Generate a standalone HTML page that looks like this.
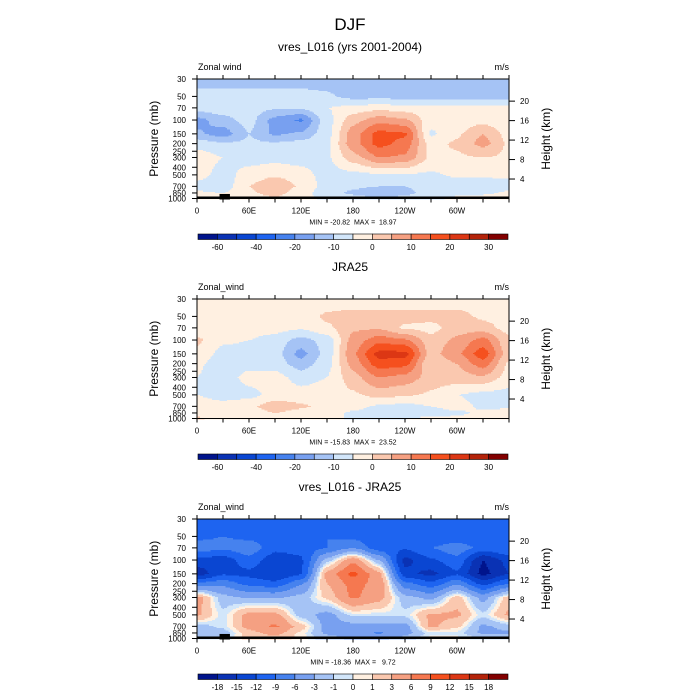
<!DOCTYPE html>
<html><head><meta charset="utf-8"><style>
body{margin:0;background:#fff;}
svg{display:block;font-family:"Liberation Sans",sans-serif;}
text{white-space:pre;}
</style></head><body>
<svg id="chart" width="700" height="700" viewBox="0 0 700 700">
<rect width="700" height="700" fill="#fff"/>
<text x="350" y="30" font-size="17" text-anchor="middle">DJF</text>
</svg>
<script>
// ---- data ----
const lons = [0,30,60,90,120,150,180,210,240,270,300,330,360];
const levels = [30,50,70,100,150,200,300,500,700,850,1000];
const modelU = [
 [-12.5,-12.5,-12.5,-12.5,-12.5,-12.5,-12.5,-12.5,-12.5,-12.5,-12.5,-12.5,-12.5],
 [-8,-8,-8,-8,-8,-9,-12,-12,-12,-12,-12,-12,-12],
 [-7,-7,-8,-9,-9,-5,-3,-2,-3,-3,-3,-3,-3],
 [-17,-12,-8,-17,-21,-7,3,8,6,-3,-3,-2,-4],
 [-14,-18,-10,-16,-14,-7,8,17,16,-6,-1,5,-2],
 [-7,-9,-9,-9,-8,-6,8,17,13,-2,1,7,-1],
 [-2,-5,-7,-7,-7,-6,3,10,9,-1,-1,0,-1],
 [-3,-7,-3,-1,-3,-7,-7,-6,-6,-6,-4,-4,-4],
 [-7,-8,0,5,-1,-7,-9,-10,-10,-7,-8,-8,-7],
 [-4,-5,-1,2,-3,-8,-11,-13,-12,-7,-6,-6,-4],
 [-3,-3,-2,-1,-3,-6,-8,-9,-8,-6,-4,-3,-3]
];
const jraU = [
 [-3,-3,-3,-3,-3,-3,-3,-3,-3,-3,-3,-3,-3],
 [-3,-3,-3,-3,-3,1,2,2,2,2,2,-1,-2],
 [-3,-3,-3,-3,-4,-1,4,4,-1,-2,3,2,-2],
 [1,-4,-5,-7,-12,-8,7,13,11,2,6,12,1],
 [-1,-7,-6,-8,-17,-8,9,22,22,3,9,18,2],
 [-4,-8,-7,-7,-13,-7,7,18,17,0,5,13,-1],
 [-5,-8,-3,-3,-7,-5,3,10,8,3,3,4,-2],
 [-5,-8,-7,-3,-3,-3,-1,2,1,-1,-5,-7,-7],
 [-2,-2,-1,3,1,-2,-3,-6,-7,-5,-3,-6,-6],
 [-2,-3,-3,0,-2,-3,-6,-7,-7,-7,-6,-4,-3],
 [1,-3,-3,-2,-3,-3,-6,-6,-5,-4,-4,-4,-3]
];
const diffU = [
 [-11.5,-11.5,-11.5,-11.5,-11.5,-11.5,-11.5,-11.5,-11.5,-11.5,-11.5,-11.5,-11.5],
 [-10,-9,-10,-10,-11.5,-9,-10,-11.5,-11.5,-11.5,-11.5,-11.5,-11.5],
 [-7,-8,-7,-11,-11,-9,-6,-11,-11.5,-9,-7,-10,-9],
 [-13,-14,-10,-14,-12.5,-2,5,-3,-16,-12.5,-10,-18,-14],
 [-17,-12.5,-13,-15,-12.5,4,10,4,-14,-16,-12.5,-19,-15],
 [-8,-7,-10,-11,-6.5,3,7,5,-8,-11,-6.5,-13,-9],
 [4,-2,-3.5,-3.5,-2,1.5,6.5,4,-2,-4,2,-4,2],
 [3.5,-0.5,4,4,-2,-4,-0.5,-0.5,-0.5,3.5,3.5,-0.5,3.5],
 [-2,-0.5,4,6.5,2,-4,-4,-4,-4,3.5,1.5,-3.5,-2],
 [-2,-2,2,4,0.5,-3.5,-4,-6.5,-4,-0.5,-0.5,-3.5,-3.5],
 [-0.5,-0.5,1.5,2,0.5,-2,-3.5,-3.5,-2,0.5,0.5,-0.5,-0.5]
];
const fullLevels = [-60,-50,-40,-30,-20,-15,-10,-5,0,5,10,15,20,25,30];
const fullLabels = ["-60","","-40","","-20","","-10","","0","","10","","20","","30"];
const diffLevels = [-18,-15,-12,-9,-6,-3,-1,0,1,3,6,9,12,15,18];
const diffLabels = ["-18","-15","-12","-9","-6","-3","-1","0","1","3","6","9","12","15","18"];
const pTicks = [30,50,70,100,150,200,250,300,400,500,700,850,1000];
const hTicks = [20,16,12,8,4];
const xTickLons = [0,60,120,180,240,300];
const xTickLabels = ["0","60E","120E","180","120W","60W"];
const minmax = ["MIN = -20.82  MAX =  18.97","MIN = -15.83  MAX =  23.52","MIN = -18.36  MAX =   9.72"];
const titles = ["vres_L016 (yrs 2001-2004)","JRA25","vres_L016 - JRA25"];
const leftNotes = ["Zonal wind","Zonal_wind","Zonal_wind"];

const colors = ["#00148c","#0a32b4","#0a46d2","#1e64f0","#4682ee","#78a0f0","#a5c3f5","#d2e6fa","#fff0e1","#fac8af","#f5a082","#f57850","#f5501e","#dc3714","#b4230a","#820000"];

const NS="http://www.w3.org/2000/svg";
const svg=document.getElementById('chart');
function mk(tag,attrs,parent){const e=document.createElementNS(NS,tag);for(const k in attrs)e.setAttribute(k,attrs[k]);(parent||svg).appendChild(e);return e;}

const X0=197,X1=509,PH=119.5;
function xs(lon){return X0+(lon/360)*(X1-X0);}
function ys(p,top){return top+Math.log(p/30)/Math.log(1000/30)*PH;}
function pAt(y,top){return 30*Math.exp((y-top)/PH*Math.log(1000/30));}
function interp(grid,lon,p){
  let i=Math.min(11,Math.floor(lon/30));let fx=(lon-lons[i])/30;
  let j=0;while(j<levels.length-2&&p>levels[j+1])j++;
  let fy=(Math.log(p)-Math.log(levels[j]))/(Math.log(levels[j+1])-Math.log(levels[j]));
  fy=Math.max(0,Math.min(1,fy));
  fx=fx*fx*(3-2*fx)*0.5+fx*0.5;
  const a=grid[j][i],b=grid[j][i+1],c=grid[j+1][i],d=grid[j+1][i+1];
  return (a*(1-fx)+b*fx)*(1-fy)+(c*(1-fx)+d*fx)*fy;
}
function colIdx(v,lv){let k=0;while(k<lv.length&&v>=lv[k])k++;return k;}

function panel(n,top,grid,lv,labs,topo){
  const g=mk('g',{});
  
  
  const t=mk('text',{x:350,y:top-28,'font-size':12,'text-anchor':'middle'},g);t.textContent=titles[n];
  
  
  const ln=mk('text',{x:198,y:top-9,'font-size':9},g);ln.textContent=leftNotes[n];
  
  
  const un=mk('text',{x:509,y:top-9,'font-size':9,'text-anchor':'end'},g);un.textContent="m/s";
  
  
  const cg=mk('g',{'shape-rendering':'crispEdges'},g);
  
  
  const cw=1.5,ch=1.2;
  for(let y=top;y<top+PH-0.01;y+=ch){
    const p=pAt(y+ch/2,top);
    let runStart=X0,runC=-1;
    for(let x=X0;x<=X1+0.001;x+=cw){
      let c=-1;
      if(x<X1-0.001){const lon=(x+cw/2-X0)/(X1-X0)*360;c=colIdx(interp(grid,Math.min(359.9,lon),p),lv);}
      if(c!==runC){
        if(runC>=0){const r=mk('rect',{x:runStart,y:y,width:Math.min(x,X1)-runStart,height:ch+0.3,fill:colors[runC]},cg);
          
          }
        runStart=x;runC=c;
      }
    }
  }
  if(topo){
    const b=mk('rect',{x:X0,y:top+PH-2,width:X1-X0,height:2.5,fill:'#000'},g);
    
    
    const m=mk('rect',{x:xs(26),y:ys(850,top)+1,width:xs(38)-xs(26),height:top+PH-ys(850,top),fill:'#000'},g);
    
    
  }
  const fr=mk('rect',{x:X0,y:top,width:X1-X0,height:PH,fill:'none',stroke:'#000','stroke-width':1},g);
  
  
  pTicks.forEach(p=>{const y=ys(p,top);
    mk('line',{x1:X0-5,x2:X0,y1:y,y2:y,stroke:'#000','stroke-width':1},g);
    const tl=mk('text',{x:X0-11,y:y+3,'font-size':8,'text-anchor':'end'},g);tl.textContent=p;
    
    });
  hTicks.forEach(h=>{const p=1000*Math.exp(-h/7);const y=ys(p,top);
    mk('line',{x1:X1,x2:X1+6,y1:y,y2:y,stroke:'#000','stroke-width':1},g);
    const tl=mk('text',{x:X1+11,y:y+3,'font-size':8},g);tl.textContent=h;
    
    });
  for(let lon=0;lon<=360;lon+=30){const x=xs(lon);
    mk('line',{x1:x,x2:x,y1:top,y2:top-4,stroke:'#000','stroke-width':1},g);
    mk('line',{x1:x,x2:x,y1:top+PH,y2:top+PH+4,stroke:'#000','stroke-width':1},g);}
  xTickLons.forEach((lon,i)=>{const tl=mk('text',{x:xs(lon),y:top+PH+15,'font-size':8,'text-anchor':'middle'},g);tl.textContent=xTickLabels[i];
    
    });
  const yl=mk('text',{x:0,y:0,'font-size':12,'text-anchor':'middle',transform:`translate(158,${top+PH/2}) rotate(-90)`},g);yl.textContent="Pressure (mb)";
  
  
  const yr=mk('text',{x:0,y:0,'font-size':12,'text-anchor':'middle',transform:`translate(550,${top+PH/2}) rotate(-90)`},g);yr.textContent="Height (km)";
  
  
  const mm=mk('text',{x:353,y:top+PH+26,'font-size':7,'text-anchor':'middle'},g);mm.textContent=minmax[n];
  
  
  const cbY=top+155,bw=(508-198)/16;
  for(let k=0;k<16;k++){const r=mk('rect',{x:198+k*bw,y:cbY,width:bw,height:5.5,fill:colors[k],stroke:'#000','stroke-width':0.6},g);
    
    }
  labs.forEach((l,k)=>{if(!l)return;const tl=mk('text',{x:198+(k+1)*bw,y:cbY+16,'font-size':8,'text-anchor':'middle'},g);tl.textContent=l;
    
    });
}
panel(0,79,modelU,fullLevels,fullLabels,true);
panel(1,299,jraU,fullLevels,fullLabels,false);
panel(2,519,diffU,diffLevels,diffLabels,true);
</script>
</body></html>
